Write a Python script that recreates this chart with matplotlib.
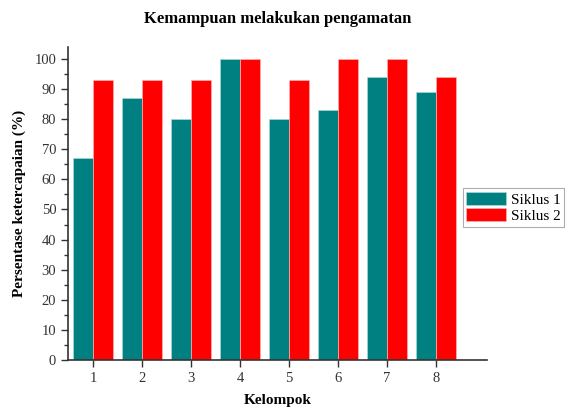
import matplotlib.pyplot as plt
import numpy as np
from matplotlib.ticker import MultipleLocator

plt.rcParams['font.family'] = ['Liberation Serif', 'DejaVu Serif']

kelompok = [1, 2, 3, 4, 5, 6, 7, 8]
siklus1 = [67, 87, 80, 100, 80, 83, 94, 89]
siklus2 = [93, 93, 93, 100, 93, 100, 100, 94]

fig = plt.figure(figsize=(5.69, 4.09), dpi=100)
ax = fig.add_axes([0.1195, 0.12, 0.737, 0.765])

x = np.array(kelompok)
w = 0.4
ax.bar(x - w / 2, siklus1, width=w, color='#008080', edgecolor='#a8d8d8', linewidth=0.5, label='Siklus 1')
ax.bar(x + w / 2, siklus2, width=w, color='#ff0000', edgecolor='#ffb0b0', linewidth=0.5, label='Siklus 2')

ax.set_xlim(0.49, 9.05)
ax.set_ylim(0, 104)
ax.set_xticks(kelompok)
ax.yaxis.set_major_locator(MultipleLocator(10))
ax.yaxis.set_minor_locator(MultipleLocator(5))
ax.spines['top'].set_visible(False)
ax.spines['right'].set_visible(False)
for s in ['left', 'bottom']:
    ax.spines[s].set_color('#333333')
    ax.spines[s].set_linewidth(1.2)
ax.tick_params(axis='both', which='major', length=5, width=1, color='#333333', labelsize=10.5, labelcolor='#333333')
ax.tick_params(axis='y', which='minor', length=3, width=1, color='#333333')

ax.set_xlabel('Kelompok', fontsize=11, fontweight='bold', labelpad=7)
ax.set_ylabel('Persentase ketercapaian (%)', fontsize=11, fontweight='bold', labelpad=6)
ax.set_title('Kemampuan melakukan pengamatan', fontsize=12, fontweight='bold', pad=17)

leg = ax.legend(loc='upper left', bbox_to_anchor=(0.813, 0.54), bbox_transform=fig.transFigure,
                fontsize=11, frameon=True, fancybox=False, edgecolor='#999999',
                handlelength=2.6, handleheight=0.9, borderpad=0.25, labelspacing=0.1,
                handletextpad=0.3, borderaxespad=0)
leg.get_frame().set_linewidth(0.8)

fig.savefig('out.png', dpi=100)
